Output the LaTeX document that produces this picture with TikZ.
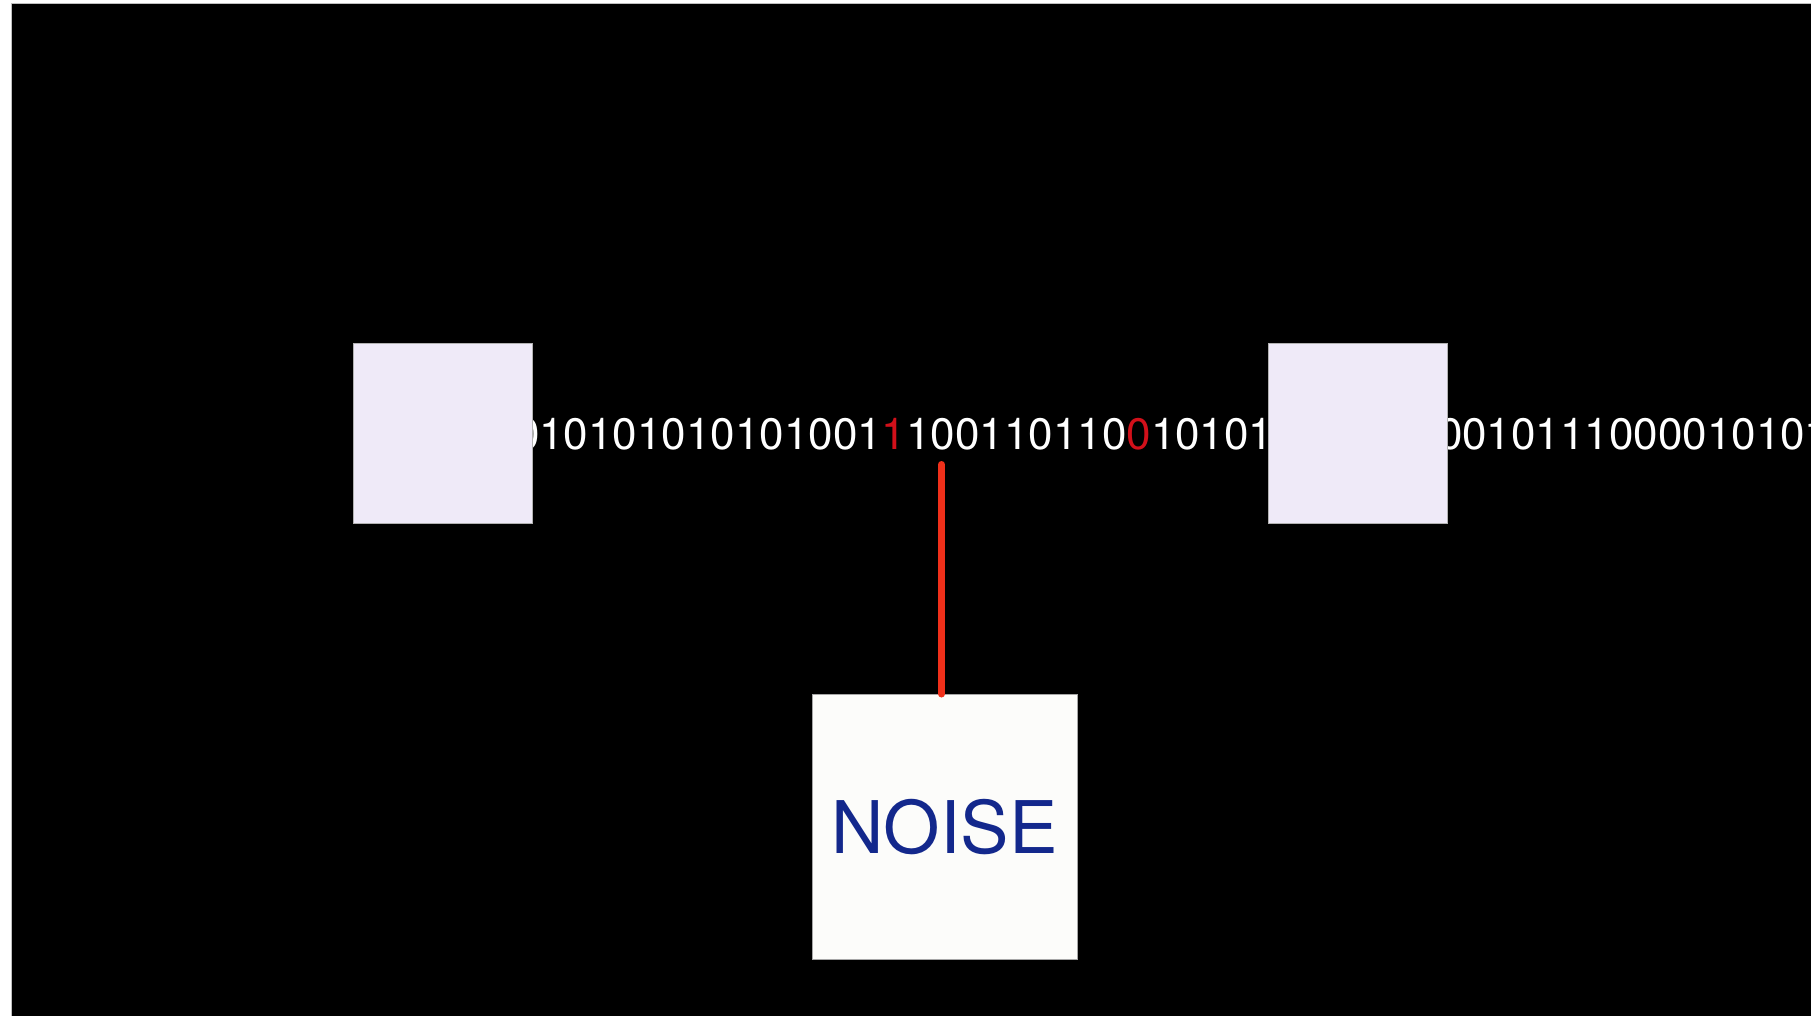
\documentclass[tikz,border=0pt]{standalone}
\usepackage{fontspec}
\setmainfont{TeX Gyre Heros}
\usepackage{xcolor}
\usepackage{tikz}
\usetikzlibrary{positioning}

\definecolor{lavbox}{HTML}{EFEAF8}
\definecolor{noisebox}{HTML}{FCFCFA}
\definecolor{noiseblue}{HTML}{13288C}
\definecolor{flipred}{HTML}{D2101A}
\definecolor{wirered}{HTML}{F0301A}

\tikzset{
  station/.style={draw=gray!60, fill=lavbox, minimum size=89.5pt, inner sep=0pt, line width=0.5pt},
  bits/.style={text=white, inner sep=0pt, outer sep=0pt, anchor=base west, font=\fontsize{22}{26}\selectfont},
}

\begin{document}
\begin{tikzpicture}[x=0.5pt, y=-0.5pt]
        \useasboundingbox (0,0) rectangle (1811,1016);
        \fill[white] (0,0) rectangle (1811,1016);
        \filldraw[fill=black, draw=gray!50, line width=0.5pt] (11,4) rectangle (1812,1017);

        % the bit stream, running behind both boxes
        \node[bits] (stream) at (515,450) {010101010101001\textcolor{flipred}{1}100110110\textcolor{flipred}{0}10101};
        \node[bits] (tail) at (1438,450) {0010111000010101};

        \node[station] (sender) at (442.75,433.5) {};
        \node[station, right=367.75pt of sender] (receiver) {};
        \node[draw=gray!70, fill=noisebox, minimum size=132.5pt, inner sep=0pt, line width=0.5pt,
              text=noiseblue, font=\fontsize{36.3}{40}\selectfont] (noise) at (944.5,827) {NOISE};

        \coordinate (hit) at (941.5,464.5);
        \draw[wirered, line width=3.5pt, line cap=round] (noise.north -| hit) -- (hit);
\end{tikzpicture}
\end{document}
